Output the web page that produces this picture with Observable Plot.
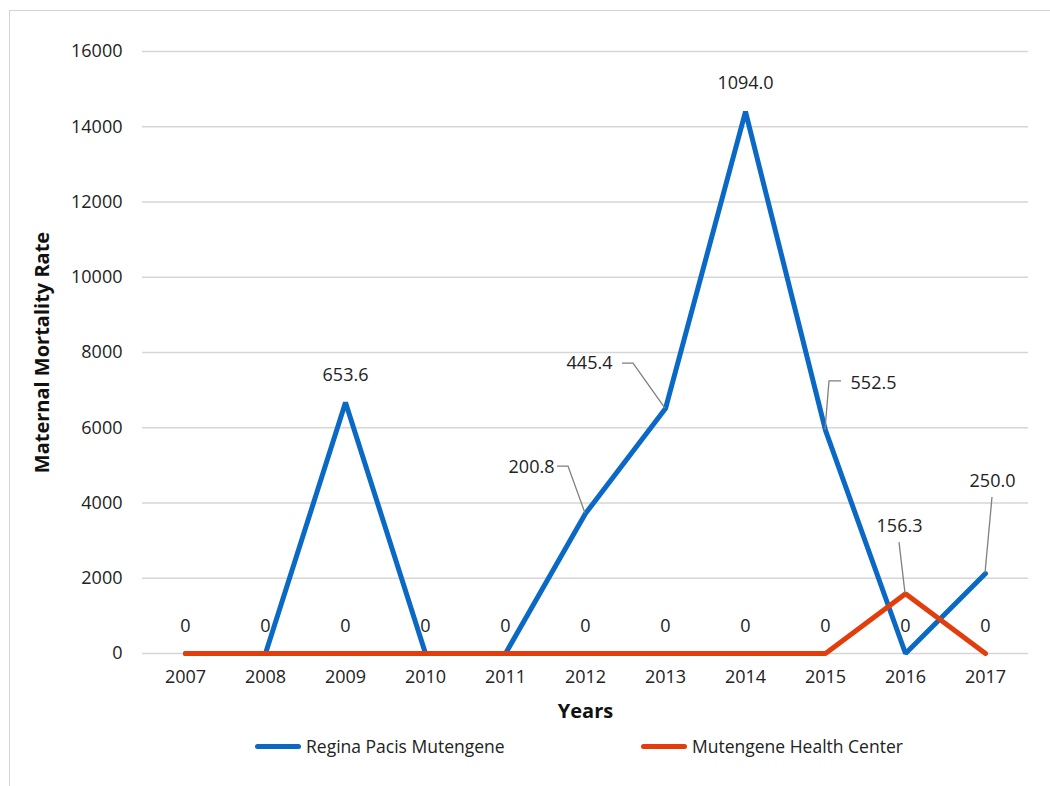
<!DOCTYPE html>
<html>
<head>
<meta charset="utf-8">
<script src="https://cdn.jsdelivr.net/npm/d3@7"></script>
<script src="https://cdn.jsdelivr.net/npm/@observablehq/plot@0.6"></script>
<style>
  html, body { margin: 0; padding: 0; background: #fff; }
  body { width: 1050px; height: 786px; position: relative; overflow: hidden; font-family: "Open Sans", sans-serif; }
  #frame { position: absolute; left: 9px; top: 10px; width: 1100px; height: 800px;
           border-top: 1.5px solid #d4d4d4; border-left: 1.5px solid #d4d4d4; pointer-events: none; }
  #chart { position: absolute; left: 0; top: 0; }
  #legend { position: absolute; top: 734px; left: 0; width: 1050px; height: 26px; font-size: 17.5px; color: #222; }
  .item { position: absolute; display: flex; align-items: center; }
  .swatch { width: 46px; height: 5px; border-radius: 3px; margin-right: 5px; }
</style>
</head>
<body>
<div id="chart"></div>
<div id="frame"></div>
<div id="legend"></div>
<script>
// ---- data ----
const years = [2007, 2008, 2009, 2010, 2011, 2012, 2013, 2014, 2015, 2016, 2017];
const seriesNames = ["Regina Pacis Mutengene", "Mutengene Health Center"];
const reginaValues = [0, 0, 6670, 0, 0, 3720, 6510, 14400, 5930, 0, 2125];
const healthCenterValues = [0, 0, 0, 0, 0, 0, 0, 0, 0, 1590, 0];
const reginaLabels = ["0", "0", "653.6", "0", "0", "200.8", "445.4", "1094.0", "552.5", "0", "250.0"];
const healthCenterLabels = ["0", "0", "0", "0", "0", "0", "0", "0", "0", "156.3", "0"];
const yTicks = [0, 2000, 4000, 6000, 8000, 10000, 12000, 14000, 16000];

// ---- styling / layout (kept separate from data) ----
const colors = {"Regina Pacis Mutengene": "#0a69c4", "Mutengene Health Center": "#e23d0a"};
// pixel offsets of non-zero labels relative to their point, with leader-line vertices
const labelLayout = {
  "Regina Pacis Mutengene|2009": {dx: 0, dy: -27, leader: null},
  "Regina Pacis Mutengene|2012": {dx: -54, dy: -46, leader: [[-28, -47], [-17, -47], [0, 0]]},
  "Regina Pacis Mutengene|2013": {dx: -76, dy: -45, leader: [[-43, -45], [-32, -45], [0, 0]]},
  "Regina Pacis Mutengene|2014": {dx: 0, dy: -28, leader: null},
  "Regina Pacis Mutengene|2015": {dx: 48, dy: -47, leader: [[16, -49], [4, -49], [0, 0]]},
  "Mutengene Health Center|2016": {dx: -6, dy: -67, leader: [[-6, -51], [0, 0]]},
  "Regina Pacis Mutengene|2017": {dx: 7, dy: -92, leader: [[7, -76], [0, 0]]}
};

// ---- build table ----
const rows = [];
years.forEach((yr, i) => {
  rows.push({series: seriesNames[0], year: yr, value: reginaValues[i], label: reginaLabels[i]});
  rows.push({series: seriesNames[1], year: yr, value: healthCenterValues[i], label: healthCenterLabels[i]});
});
const blueRows = rows.filter(d => d.series === seriesNames[0]);
const redRows = rows.filter(d => d.series === seriesNames[1]);

// zero labels: one per year (deduplicated)
const zeroLabels = [];
const seen = new Set();
for (const d of rows) {
  if (d.label === "0" && !seen.has(d.year)) { seen.add(d.year); zeroLabels.push(d); }
}
const otherLabels = rows.filter(d => d.label !== "0");

const font = "'Open Sans', sans-serif";

const labelMarks = otherLabels.map(d => {
  const lay = labelLayout[d.series + "|" + d.year] || {dx: 0, dy: -27};
  return Plot.text([d], {x: "year", y: "value", text: "label", dx: lay.dx, dy: lay.dy,
    fontSize: 18, fill: "#222"});
});

// leader lines drawn with the plot's own scales
const leaderMark = (index, scales) => {
  const g = d3.create("svg:g").attr("fill", "none").attr("stroke", "#7f7f7f").attr("stroke-width", 1.3);
  for (const d of otherLabels) {
    const lay = labelLayout[d.series + "|" + d.year];
    if (!lay || !lay.leader) continue;
    const px = scales.x(d.year), py = scales.y(d.value);
    const pts = lay.leader.map(([ox, oy]) => [px + ox, py + oy]);
    g.append("path").attr("d", d3.line()(pts));
  }
  return g.node();
};

const plot = Plot.plot({
  width: 1050,
  height: 786,
  marginLeft: 142,
  marginRight: 22,
  marginTop: 51,
  marginBottom: 133,
  style: {fontFamily: font, fontSize: "18px", color: "#222", background: "transparent"},
  x: {type: "point", domain: years, padding: 0.5, tickSize: 0, tickPadding: 17, label: null,
      tickFormat: d => String(d)},
  y: {domain: [0, 16000], ticks: yTicks, tickSize: 0, tickPadding: 20, label: null,
      tickFormat: d => String(d)},
  marks: [
    Plot.ruleY(yTicks, {stroke: "#d6d6d6", strokeWidth: 1.5}),
    Plot.line(blueRows, {x: "year", y: "value", stroke: colors[seriesNames[0]], strokeWidth: 5,
      strokeLinejoin: "miter", strokeLinecap: "round"}),
    Plot.line(redRows, {x: "year", y: "value", stroke: colors[seriesNames[1]], strokeWidth: 5,
      strokeLinejoin: "miter", strokeLinecap: "round"}),
    leaderMark,
    Plot.text(zeroLabels, {x: "year", y: "value", text: "label", dy: -27, fontSize: 18, fill: "#222"}),
    ...labelMarks,
    Plot.text(["Years"], {frameAnchor: "bottom", dy: 64, fontWeight: "bold", fontSize: 20, fill: "#111"}),
    Plot.text(["Maternal Mortality Rate"], {frameAnchor: "left", textAnchor: "middle", dx: -100, rotate: -90,
      fontWeight: "bold", fontSize: 20, fill: "#111"})
  ]
});
document.getElementById("chart").appendChild(plot);

// legend
const legend = document.getElementById("legend");
const legendPos = [255, 641];
seriesNames.forEach((name, i) => {
  const item = document.createElement("div");
  item.className = "item";
  item.style.left = legendPos[i] + "px";
  const sw = document.createElement("div");
  sw.className = "swatch";
  sw.style.background = colors[name];
  const tx = document.createElement("span");
  tx.textContent = name;
  item.appendChild(sw);
  item.appendChild(tx);
  legend.appendChild(item);
});
</script>
</body>
</html>
